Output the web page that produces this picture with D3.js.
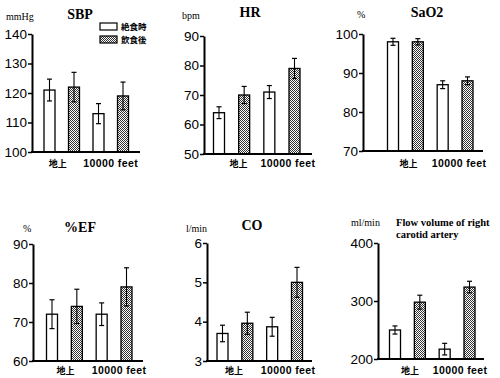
<!DOCTYPE html>
<html><head><meta charset="utf-8">
<script src="https://cdn.jsdelivr.net/npm/d3@7"></script>
<style>
body{margin:0;background:#fff;}
svg{display:block;}
</style></head>
<body>
<svg id="c" width="500" height="378"></svg>
<script>
// ---- data ----
const categories = ["地上", "10000 feet"];
const seriesNames = ["絶食時", "飲食後"];
const titles = ["SBP", "HR", "SaO2", "%EF", "CO", "Flow volume of right|carotid artery"];
const units = ["mmHg", "bpm", "%", "%", "l/min", "ml/min"];
const sbpMean = [121, 122, 113, 119];
const sbpErr  = [3.7, 5, 3.4, 4.7];
const hrMean  = [64, 70, 71, 79];
const hrErr   = [2, 2.9, 2.2, 3.4];
const sao2Mean = [98, 98, 87, 88];
const sao2Err  = [0.9, 0.8, 1, 1];
const efMean  = [72, 74, 72, 79];
const efErr   = [3.7, 4.4, 2.9, 4.9];
const coMean  = [3.7, 3.96, 3.87, 5.0];
const coErr   = [0.21, 0.28, 0.24, 0.38];
const flowMean = [250, 298, 217, 324];
const flowErr  = [7, 12, 10, 10];
const sbpTicks = [100, 110, 120, 130, 140];
const hrTicks  = [50, 60, 70, 80, 90];
const sao2Ticks = [70, 80, 90, 100];
const efTicks  = [60, 70, 80, 90];
const coTicks  = [3, 4, 5, 6];
const flowTicks = [200, 300, 400];

// ---- layout ----
const layout = [
  {ax:32, yTop:34, yBot:152, xEnd:140, c0:49.5, c3:123, tx:80, ty:19, ux:6, uy:20, ly:167, ldx:[-4,0]},
  {ax:204, yTop:36, yBot:154, xEnd:312, c0:219, c3:294.5, tx:250, ty:17, ux:182, uy:19, ly:167, ldx:[7,6]},
  {ax:363, yTop:34, yBot:151, xEnd:483, c0:393, c3:467.5, tx:427, ty:17, ux:357, uy:18, ly:167, ldx:[3,4]},
  {ax:33, yTop:244, yBot:361, xEnd:143, c0:52, c3:126.5, tx:80, ty:232, ux:23, uy:232, ly:374, ldx:[1,5]},
  {ax:207, yTop:243, yBot:361, xEnd:312, c0:222.5, c3:297, tx:252, ty:230, ux:186, uy:232, ly:374, ldx:[-1,3.5]},
  {ax:378, yTop:243, yBot:359, xEnd:484, c0:395, c3:469.5, tx:396, ty:226, ux:351, uy:226, ly:374, ldx:[2.5,3], titleLeft:true}
];
const means = [sbpMean, hrMean, sao2Mean, efMean, coMean, flowMean];
const errs = [sbpErr, hrErr, sao2Err, efErr, coErr, flowErr];
const ticks = [sbpTicks, hrTicks, sao2Ticks, efTicks, coTicks, flowTicks];

const svg = d3.select("#c");
const defs = svg.append("defs");
const pat = defs.append("pattern").attr("id","hatch").attr("patternUnits","userSpaceOnUse")
  .attr("width",2).attr("height",2);
pat.append("rect").attr("width",2).attr("height",2).attr("fill","#fff");
pat.append("rect").attr("x",0).attr("y",0).attr("width",1).attr("height",1).attr("fill","#333");
pat.append("rect").attr("x",1).attr("y",1).attr("width",1).attr("height",1).attr("fill","#333");

const barW = 11;
const keys = [];
categories.forEach(c => seriesNames.forEach(s => keys.push(c + "|" + s)));

layout.forEach((L, i) => {
  const g = svg.append("g");
  const tk = ticks[i];
  const y = d3.scaleLinear().domain([tk[0], tk[tk.length-1]]).range([L.yBot, L.yTop]);
  const x = d3.scalePoint().domain(keys).range([L.c0, L.c3]);
  const data = keys.map((k, j) => ({k, cat: k.split("|")[0], ser: j % 2, m: means[i][j], e: errs[i][j]}));

  // bars
  g.selectAll("rect.bar").data(data).enter().append("rect")
    .attr("x", d => x(d.k) - barW/2)
    .attr("y", d => y(d.m))
    .attr("width", barW)
    .attr("height", d => y(tk[0]) - y(d.m))
    .attr("fill", d => d.ser ? "url(#hatch)" : "#fff")
    .attr("stroke", "#000").attr("stroke-width", 1.3);

  // error bars
  const eb = g.selectAll("g.err").data(data).enter().append("g");
  eb.append("line").attr("x1", d => x(d.k)).attr("x2", d => x(d.k))
    .attr("y1", d => y(d.m + d.e)).attr("y2", d => y(d.m - d.e))
    .attr("stroke","#000").attr("stroke-width",1.1);
  [1,-1].forEach(sg => {
    eb.append("line").attr("x1", d => x(d.k)-2.5).attr("x2", d => x(d.k)+2.5)
      .attr("y1", d => y(d.m + sg*d.e)).attr("y2", d => y(d.m + sg*d.e))
      .attr("stroke","#000").attr("stroke-width",1.2);
  });

  // y axis
  const axis = d3.axisLeft(y).tickValues(tk).tickFormat(d3.format("d"))
    .tickSize(4).tickSizeOuter(0).tickPadding(1);
  const ag = g.append("g").attr("transform", `translate(${L.ax},0)`).call(axis);
  ag.select(".domain").attr("stroke","#000").attr("stroke-width",2);
  ag.selectAll(".tick line").attr("stroke","#000").attr("stroke-width",1.5);
  ag.selectAll(".tick text").attr("font-family","'Liberation Sans', Arial, sans-serif")
    .attr("font-size", 13.5).attr("fill","#000");

  // baseline
  g.append("line").attr("x1", L.ax - 1).attr("x2", L.xEnd)
    .attr("y1", y(tk[0])).attr("y2", y(tk[0])).attr("stroke","#000").attr("stroke-width",2);

  // category labels
  categories.forEach((c, ci) => {
    const cx = (x(c + "|" + seriesNames[0]) + x(c + "|" + seriesNames[1])) / 2 + L.ldx[ci];
    const isCJK = ci === 0;
    g.append("text").attr("x", cx).attr("y", L.ly).attr("text-anchor","middle")
      .attr("font-family", isCJK ? "'Noto Sans CJK JP', sans-serif" : "'Liberation Sans', Arial, sans-serif")
      .attr("font-weight","bold").attr("font-size", isCJK ? 9 : 10.5)
      .attr("letter-spacing", isCJK ? 0 : 0.4)
      .text(c);
  });

  // title
  const tl = titles[i].split("|");
  tl.forEach((t, ti) => {
    g.append("text").attr("x", L.tx).attr("y", L.ty + ti*12)
      .attr("text-anchor", L.titleLeft ? "start" : "middle")
      .attr("font-family","'Liberation Serif', 'Times New Roman', serif")
      .attr("font-weight","bold").attr("font-size", L.titleLeft ? 10.5 : 14)
      .text(t);
  });
  // unit
  g.append("text").attr("x", L.ux).attr("y", L.uy)
    .attr("font-family","'Liberation Serif', 'Times New Roman', serif")
    .attr("font-size", 10).text(units[i]);
});

// legend
const leg = svg.append("g");
seriesNames.forEach((s, i) => {
  leg.append("rect").attr("x", 100).attr("y", 23 + i*13).attr("width", 17).attr("height", 7)
    .attr("fill", i ? "url(#hatch)" : "#fff").attr("stroke","#000").attr("stroke-width",1.2);
  leg.append("text").attr("x", 121).attr("y", 30 + i*13)
    .attr("font-family","'Noto Sans CJK JP', sans-serif").attr("font-weight","bold")
    .attr("font-size", 8.5).text(s);
});
</script>
</body></html>
